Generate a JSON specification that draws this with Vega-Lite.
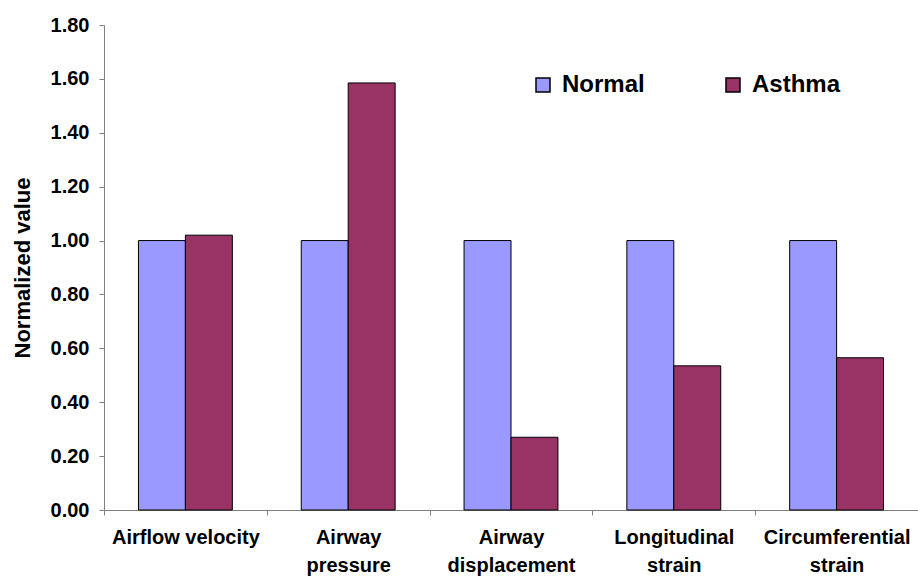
{
  "$schema": "https://vega.github.io/schema/vega-lite/v6.json",
  "width": 814,
  "height": 485,
  "autosize": "none",
  "padding": {"left": 104, "top": 25, "right": 0, "bottom": 67},
  "background": "white",
  "config": {"view": {"stroke": null}, "font": "Liberation Sans"},
  "data": {"values": [
    {"measure": "Airflow velocity", "group": "Normal", "value": 1.0},
    {"measure": "Airflow velocity", "group": "Asthma", "value": 1.02},
    {"measure": "Airway pressure", "group": "Normal", "value": 1.0},
    {"measure": "Airway pressure", "group": "Asthma", "value": 1.585},
    {"measure": "Airway displacement", "group": "Normal", "value": 1.0},
    {"measure": "Airway displacement", "group": "Asthma", "value": 0.27},
    {"measure": "Longitudinal strain", "group": "Normal", "value": 1.0},
    {"measure": "Longitudinal strain", "group": "Asthma", "value": 0.535},
    {"measure": "Circumferential strain", "group": "Normal", "value": 1.0},
    {"measure": "Circumferential strain", "group": "Asthma", "value": 0.565}
  ]},
  "mark": {"type": "bar", "stroke": "black", "strokeWidth": 1},
  "encoding": {
    "x": {
      "field": "measure", "type": "nominal", "sort": null,
      "scale": {"paddingInner": 0, "paddingOuter": 0},
      "axis": {
        "title": null, "labelAngle": 0, "tickBand": "extent",
        "labelExpr": "datum.label == 'Airflow velocity' ? datum.label : split(datum.label, ' ')",
        "labelFont": "Liberation Sans", "labelFontWeight": "bold", "labelFontSize": 20,
        "labelColor": "black", "labelPadding": 12, "labelLineHeight": 28,
        "domainColor": "#808080", "tickColor": "#808080", "tickSize": 5
      }
    },
    "xOffset": {
      "field": "group", "type": "nominal", "sort": ["Normal", "Asthma"],
      "scale": {"paddingInner": 0, "paddingOuter": 0.734}
    },
    "y": {
      "field": "value", "type": "quantitative",
      "scale": {"domain": [0, 1.8], "nice": false},
      "axis": {
        "title": "Normalized value", "titleFont": "Liberation Sans", "titleFontSize": 22,
        "titleFontWeight": "bold", "titleColor": "black", "titlePadding": 16,
        "values": [0, 0.2, 0.4, 0.6, 0.8, 1.0, 1.2, 1.4, 1.6, 1.8],
        "format": ".2f", "grid": false,
        "labelFont": "Liberation Sans", "labelFontWeight": "bold", "labelFontSize": 20,
        "labelColor": "black", "labelPadding": 10,
        "domainColor": "#808080", "tickColor": "#808080", "tickSize": 5
      }
    },
    "color": {
      "field": "group", "type": "nominal",
      "scale": {"domain": ["Normal", "Asthma"], "range": ["#9999FF", "#993366"]},
      "legend": {
        "title": null, "orient": "none", "legendX": 427, "legendY": 48,
        "direction": "horizontal", "columns": 2, "columnPadding": 76,
        "symbolType": "square", "symbolSize": 196, "symbolStrokeColor": "black",
        "symbolStrokeWidth": 1.5, "symbolOpacity": 1,
        "labelFont": "Liberation Sans", "labelFontSize": 24, "labelFontWeight": "bold",
        "labelColor": "black", "labelOffset": 7, "labelLimit": 300
      }
    }
  }
}
